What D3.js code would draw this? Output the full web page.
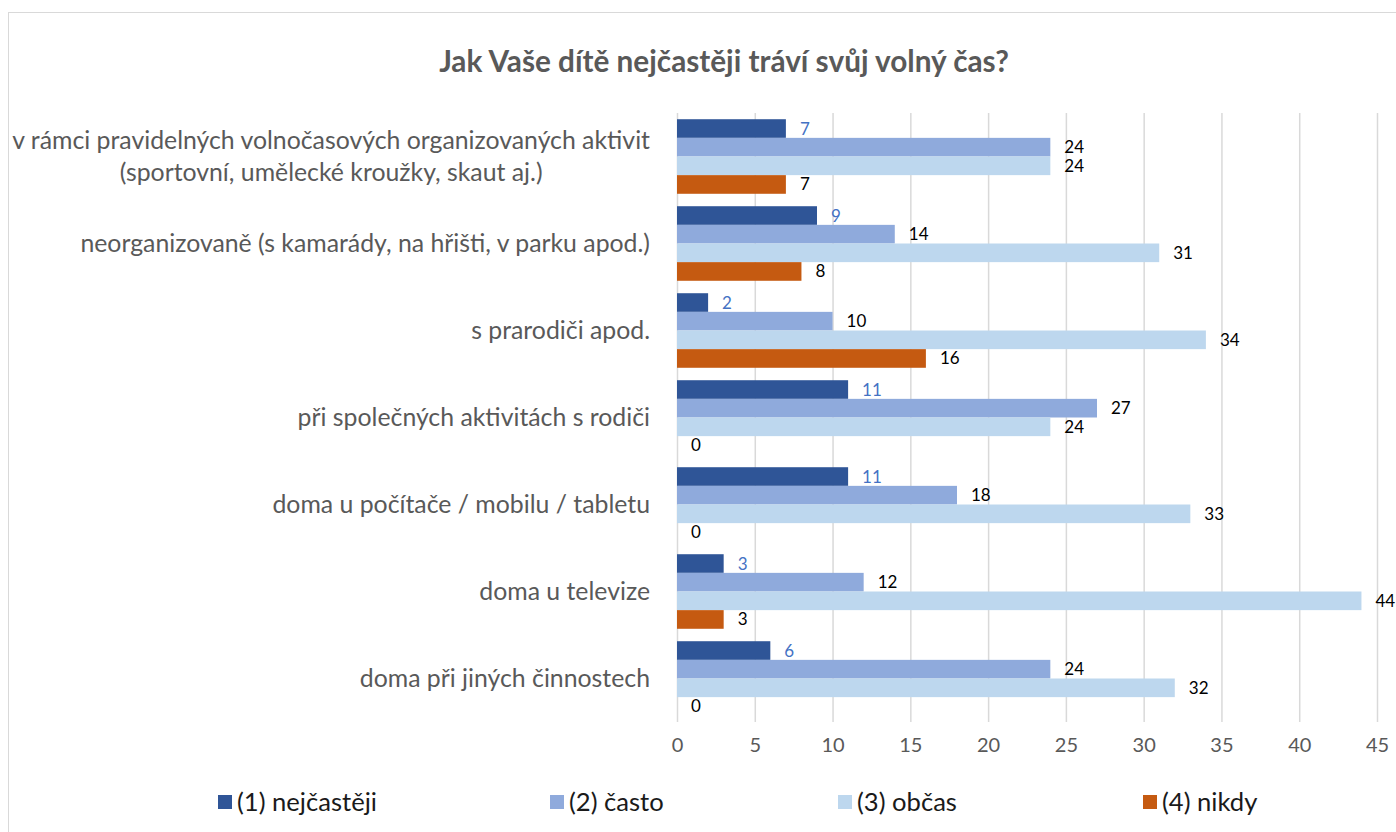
<!DOCTYPE html>
<html><head><meta charset="utf-8">
<script src="https://cdn.jsdelivr.net/npm/d3@7"></script>
<style>
html,body{margin:0;padding:0;background:#fff;}
svg text{font-family:"Liberation Sans Narrow","Lato","Open Sans",sans-serif;}
</style></head>
<body>
<svg id="c" width="1396" height="832"></svg>
<script>
const title = "Jak Vaše dítě nejčastěji tráví svůj volný čas?";
const categories = [
  ["v rámci pravidelných volnočasových organizovaných aktivit", "(sportovní, umělecké kroužky, skaut aj.)"],
  ["neorganizovaně (s kamarády, na hřišti, v parku apod.)"],
  ["s prarodiči apod."],
  ["při společných aktivitách s rodiči"],
  ["doma u počítače / mobilu / tabletu"],
  ["doma u televize"],
  ["doma při jiných činnostech"]
];
const seriesNames = ["(1) nejčastěji", "(2) často", "(3) občas", "(4) nikdy"];
const s1 = [7, 9, 2, 11, 11, 3, 6];
const s2 = [24, 14, 10, 27, 18, 12, 24];
const s3 = [24, 31, 34, 24, 33, 44, 32];
const s4 = [7, 8, 16, 0, 0, 3, 0];
const xTicks = [0, 5, 10, 15, 20, 25, 30, 35, 40, 45];
const colors = ["#2F5597", "#8FAADC", "#BDD7EE", "#C55A11"];
const labelColors = ["#4472C4", "#000000", "#000000", "#000000"];

const series = [s1, s2, s3, s4];
const svg = d3.select("#c");

// chart border
svg.append("rect").attr("x", 8.5).attr("y", 12.5).attr("width", 1400).attr("height", 840)
  .attr("fill", "#fff").attr("stroke", "#D9D9D9").attr("stroke-width", 1);

const x = d3.scaleLinear().domain([0, 45]).range([677, 1377]);
const y0 = d3.scaleBand().domain(d3.range(categories.length)).range([113, 722]).paddingInner(0.143).paddingOuter(0.0715);
const y1 = d3.scaleBand().domain(d3.range(4)).range([0, y0.bandwidth()]);

// gridlines
svg.append("g").selectAll("line").data(xTicks).join("line")
  .attr("x1", d => x(d) + 0.5).attr("x2", d => x(d) + 0.5)
  .attr("y1", 113).attr("y2", 722)
  .attr("stroke", "#D9D9D9").attr("stroke-width", 1.5);

// axis labels
const xAxis = d3.axisBottom(x).tickValues(xTicks).tickSize(0).tickPadding(0);
const ax = svg.append("g").attr("transform", "translate(0,738)").call(xAxis);
ax.select(".domain").remove();
ax.selectAll("text").attr("fill", "#595959").attr("font-size", 20).attr("dy", "0.71em")
  .style("font-family", "\"Liberation Sans Narrow\",\"Lato\",sans-serif");

// bars
const groups = svg.append("g").selectAll("g").data(categories).join("g")
  .attr("transform", (d, i) => `translate(0,${y0(i)})`);
groups.each(function (cat, ci) {
  const g = d3.select(this);
  series.forEach((s, si) => {
    const v = s[ci];
    g.append("rect").attr("x", x(0)).attr("y", y1(si))
      .attr("width", x(v) - x(0)).attr("height", y1.bandwidth())
      .attr("fill", colors[si]);
  });
  series.forEach((s, si) => {
    const v = s[ci];
    g.append("text").attr("x", x(v) + 14).attr("y", y1(si) + y1.bandwidth() / 2)
      .attr("dy", "0.35em").attr("font-size", 17).attr("fill", labelColors[si])
      .text(v);
  });
});

// category labels
const catG = svg.append("g");
categories.forEach((lines, ci) => {
  const cy = y0(ci) + y0.bandwidth() / 2;
  const lh = 32;
  const t = catG.append("text").attr("fill", "#595959").attr("font-size", 24);
  lines.forEach((ln, li) => {
    t.append("tspan").attr("y", cy + (li - (lines.length - 1) / 2) * lh).attr("dy", "0.35em").text(ln);
  });
});
// fit font size so the longest line is ~638px
let maxW = 0;
catG.selectAll("tspan").each(function () { maxW = Math.max(maxW, this.getComputedTextLength()); });
const fs = 24 * 638 / maxW;
catG.selectAll("text").attr("font-size", fs);
catG.selectAll("text").each(function () {
  const t = d3.select(this);
  const tsp = t.selectAll("tspan").nodes();
  if (tsp.length === 1) {
    t.attr("text-anchor", "end"); d3.select(tsp[0]).attr("x", 650);
  } else {
    const w = d3.max(tsp, n => n.getComputedTextLength());
    t.attr("text-anchor", "middle");
    tsp.forEach(n => d3.select(n).attr("x", 650 - w / 2));
  }
});

// title
const tt = svg.append("text").attr("x", 724).attr("y", 62).attr("dy", "0.35em")
  .attr("text-anchor", "middle").attr("font-weight", "bold").attr("fill", "#595959")
  .attr("font-size", 28).text(title);
const tw = tt.node().getComputedTextLength();
tt.attr("font-size", 28 * 570 / tw);

// legend
const legX = [218, 550, 838, 1143];
const leg = svg.append("g").selectAll("g").data(seriesNames).join("g")
  .attr("transform", (d, i) => `translate(${legX[i]},802)`);
leg.append("rect").attr("x", 0).attr("y", -7).attr("width", 14).attr("height", 14).attr("fill", (d, i) => colors[i]);
const lt = leg.append("text").attr("x", 19).attr("dy", "0.35em").attr("font-size", 20).attr("fill", "#1a1a1a").text(d => d);
const lw = lt.nodes()[0].getComputedTextLength();
lt.attr("font-size", 20 * 140 / lw);
</script>
</body></html>
